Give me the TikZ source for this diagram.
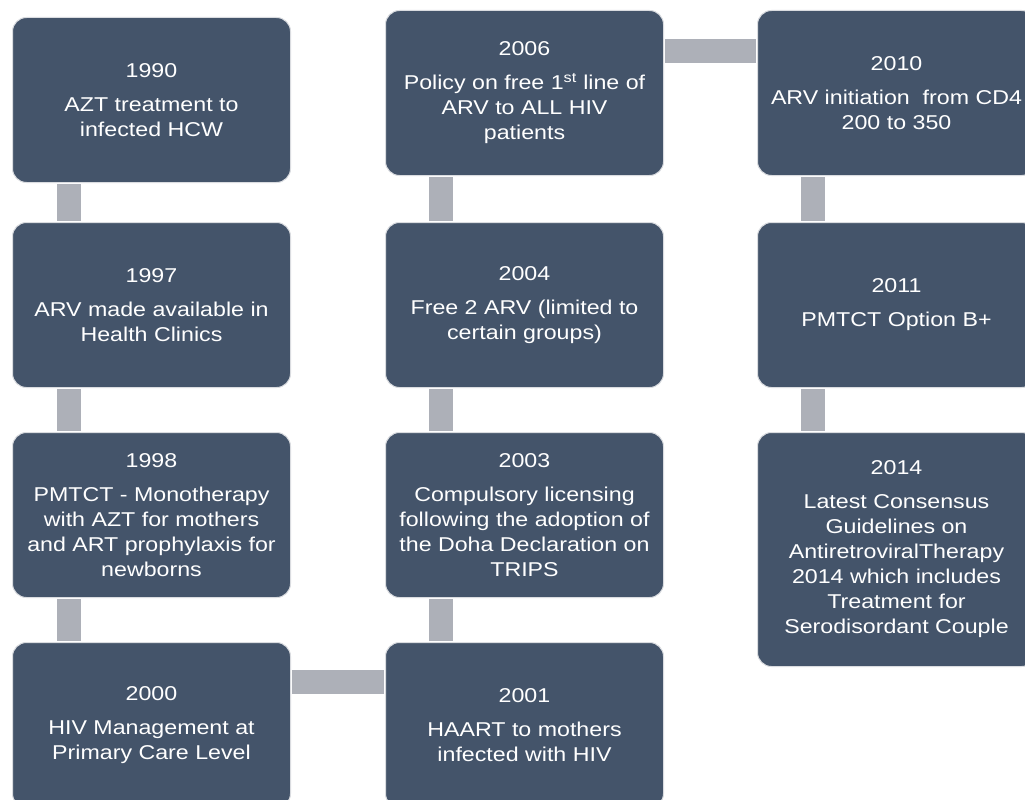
\documentclass[tikz,border=0pt]{standalone}
\usepackage{fontspec}
\setmainfont{Liberation Sans}[FakeStretch=1.16]
\definecolor{boxfill}{HTML}{44546A}
\definecolor{barcol}{HTML}{ADB0B8}
\definecolor{boxline}{HTML}{DADCE0}
\begin{document}
\begin{tikzpicture}[x=1pt,y=-1pt,
  evbox/.style={draw=boxline, line width=1pt, fill=boxfill, rounded corners=14pt,
    text=white, align=center, anchor=north west, minimum width=278pt,
    minimum height=165pt, inner sep=0pt,
    font=\fontsize{20}{25}\selectfont},
  bar/.style={draw=barcol, line width=24pt}]
\clip (0,0) rectangle (1025,800);
\fill[white] (0,0) rectangle (1025,800);
% column 1
\node[evbox] (n1990) at (12,17) {1990\\[9pt]AZT treatment to\\infected HCW};
\node[evbox] (n1997) at (12,222) {1997\\[9pt]ARV made available in\\Health Clinics};
\node[evbox] (n1998) at (12,432) {1998\\[9pt]PMTCT - Monotherapy\\with AZT for mothers\\and ART prophylaxis for\\newborns};
\node[evbox] (n2000) at (12,642) {2000\\[9pt]HIV Management at\\Primary Care Level};
% column 2
\node[evbox] (n2001) at (385,642) {2001\\[9pt]HAART to mothers\\infected with HIV};
\node[evbox] (n2003) at (385,432) {2003\\[9pt]Compulsory licensing\\following the adoption of\\the Doha Declaration on\\TRIPS};
\node[evbox] (n2004) at (385,222) {2004\\[9pt]Free 2 ARV (limited to\\certain groups)};
\node[evbox] (n2006) at (385,10) {2006\\[9pt]Policy on free 1\textsuperscript{st} line of\\ARV to ALL HIV\\patients};
% column 3
\node[evbox] (n2010) at (757,10) {2010\\[9pt]ARV initiation\ \ from CD4\\200 to 350};
\node[evbox] (n2011) at (757,222) {2011\\[9pt]PMTCT Option B+};
\node[evbox, minimum height=234pt] (n2014) at (757,432) {2014\\[9pt]Latest Consensus\\Guidelines on\\AntiretroviralTherapy\\2014 which includes\\Treatment for\\Serodisordant Couple};
% connectors
\draw[bar] ([xshift=57pt,yshift=-1pt]n1990.south west) -- ([xshift=57pt,yshift=1pt]n1997.north west);
\draw[bar] ([xshift=57pt,yshift=-1pt]n1997.south west) -- ([xshift=57pt,yshift=1pt]n1998.north west);
\draw[bar] ([xshift=57pt,yshift=-1pt]n1998.south west) -- ([xshift=57pt,yshift=1pt]n2000.north west);
\draw[bar] ([xshift=1pt,yshift=-40pt]n2000.north east) -- ([xshift=-1pt,yshift=-40pt]n2001.north west);
\draw[bar] ([xshift=56pt,yshift=1pt]n2001.north west) -- ([xshift=56pt,yshift=-1pt]n2003.south west);
\draw[bar] ([xshift=56pt,yshift=1pt]n2003.north west) -- ([xshift=56pt,yshift=-1pt]n2004.south west);
\draw[bar] ([xshift=56pt,yshift=1pt]n2004.north west) -- ([xshift=56pt,yshift=-1pt]n2006.south west);
\draw[bar] ([xshift=1pt,yshift=-41pt]n2006.north east) -- ([xshift=-1pt,yshift=-41pt]n2010.north west);
\draw[bar] ([xshift=56pt,yshift=-1pt]n2010.south west) -- ([xshift=56pt,yshift=1pt]n2011.north west);
\draw[bar] ([xshift=56pt,yshift=-1pt]n2011.south west) -- ([xshift=56pt,yshift=1pt]n2014.north west);
\end{tikzpicture}
\end{document}
